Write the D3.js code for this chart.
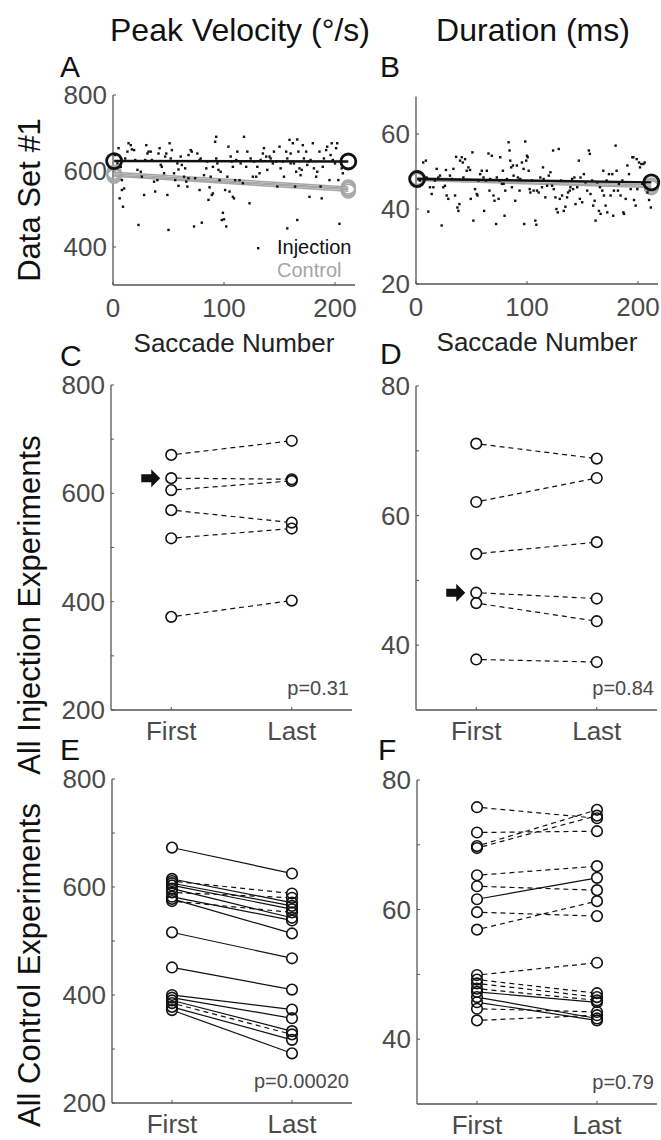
<!DOCTYPE html>
<html><head><meta charset="utf-8">
<script src="https://cdnjs.cloudflare.com/ajax/libs/d3/7.8.5/d3.min.js"></script>
<style>body{margin:0;background:#fff} text{font-family:"Liberation Sans",Arial,sans-serif}</style>
</head><body><svg id="c" width="661" height="1140"></svg>
<script>
// ---------------- DATA ----------------
const columnTitles = ["Peak Velocity (°/s)", "Duration (ms)"];
const rowLabels = ["Data Set #1", "All Injection Experiments", "All Control Experiments"];
const panelLetters = ["A", "B", "C", "D", "E", "F"];
const xCats = ["First", "Last"];
const pValues = ["p=0.31", "p=0.84", "p=0.00020", "p=0.79"];
const legendLabels = ["Injection", "Control"];

// Panel A: single injection data set, peak velocity per saccade
const saccA = [2,4,5,6,7,8,8,9,10,11,13,14,16,17,19,20,22,23,25,26,28,29,30,31,32,34,35,37,38,40,41,42,43,44,46,47,48,49,50,51,52,53,55,56,58,59,59,61,62,64,65,66,67,68,68,70,71,73,74,76,78,78,79,80,82,84,85,86,87,88,89,90,90,92,93,93,94,95,96,97,98,99,100,101,102,103,104,105,106,107,108,108,109,110,111,112,114,115,117,118,120,121,123,124,126,127,129,130,132,133,135,136,138,139,141,142,144,145,147,148,150,151,153,154,156,157,157,159,160,160,162,163,164,165,166,166,167,168,169,170,171,172,174,175,176,177,178,180,181,183,184,186,187,188,189,190,192,193,195,196,197,198,200,201,202,203,204,206,207];
const velA = [642,620,660,528,611,576,550,506,554,633,651,673,668,657,655,629,603,458,598,585,537,629,668,646,651,651,629,572,546,576,646,660,616,611,594,638,646,537,445,673,633,655,594,576,620,561,604,638,616,585,607,572,559,642,581,655,651,454,581,646,629,550,633,464,589,607,625,524,557,585,537,541,611,677,690,633,620,603,576,598,471,490,473,550,454,585,664,546,638,625,532,611,528,576,629,651,576,620,568,690,611,651,515,633,585,625,585,611,594,629,646,660,638,603,638,633,620,651,625,559,664,607,625,585,651,633,449,682,620,646,673,620,559,598,471,683,651,607,589,603,668,633,651,616,625,532,629,673,607,585,598,651,559,528,611,633,655,664,576,642,673,629,620,660,673,576,461,607,594,576];

// Panel B: single injection data set, duration per saccade
const saccB = [3.5,6.5,8.9,9.6,11.1,12.6,14.1,15.6,17.1,18.6,20.1,21.6,23.1,24.6,26.1,27,27.6,29.1,30.6,32.2,33.7,35.2,36.1,37.3,38.2,39.1,39.7,41.2,42.1,42.7,44.2,45.7,47.2,48.7,49.3,50.8,51.7,53.2,54.7,55.4,56.3,57.8,59.3,60.8,61.4,62.9,63.8,65.3,66.2,66.8,68.3,69.8,70.7,72.2,72.8,74.4,75.3,75.9,77.4,78.3,78.9,79.8,80.4,81.9,83.4,84.3,84.9,85.8,86.4,87.3,87.9,89.4,90.9,91.8,93.3,93.9,95.4,96.9,97.5,98.4,99.3,100,100.6,101.5,102.4,103,104.5,106,107.5,108.4,109,110.5,112,113.5,114.4,115,116.5,118.1,119.6,121.1,122.6,123.5,124.1,125.6,126.5,127.7,128.6,129.5,130.7,131.6,133.1,134.6,136.1,137,138.5,139.1,140.6,141.5,142.7,143.7,145.2,146.7,147.6,148.2,149.7,151.2,152.7,154.2,155.7,156.6,157.2,158.7,159.6,160.9,161.8,163.3,164.8,165.7,166.3,167.8,168.7,169.3,170.8,171.7,172.3,173.8,175.3,176.8,177.7,178.3,179.8,180.7,181.9,182.8,184.3,185.9,186.8,187.4,188.9,190.4,191.9,193.4,194.9,195.8,196.4,197.9,198.8,199.4,200.9,201.8,203,203.9,204.8,206,208.5,210,211.5];
const durB = [47.6,52.4,52.9,48.4,39.3,45.8,44,45.8,47.6,50.7,48.4,48.9,35.6,45.8,46.2,50.4,43.6,42.7,48.9,48,50.7,43.6,53.9,40.4,39.5,41.3,52.9,53.8,52.4,48.4,53.3,50.2,51.1,50.4,42.7,55.1,36.9,45.3,44,43.6,47.6,49.3,50.2,48.4,39.5,47.6,50.2,54.8,44.9,48,54.2,43.6,42.2,36,48.4,42.7,47.6,53.8,46.7,50.2,46.7,38.2,44.9,48,57.8,55.6,52.9,51.1,45.8,51.6,48.9,42.2,51.6,48.4,44.9,48,52.4,50.7,36,58,52.9,54.2,53.8,50.2,45.3,44.4,47.6,44.9,36.9,35.8,44.9,44.4,48.4,45.8,51.1,48,43.1,46.2,48.9,49.8,46.2,55.6,45.3,43.1,40,39.1,56,42.7,47.6,43.6,39.5,40.6,43.1,44.4,44.9,45.8,48,45.3,48.4,41.3,45.8,52.9,42.7,48.4,41.8,49.3,47.1,44.9,55.6,54.7,44,47.6,40.9,42.2,36.9,47.1,39.5,45.8,38.7,44.9,50.2,43.6,40.9,47.6,39.1,49.3,43.6,49.3,38.2,44.9,56.9,50.2,44.9,46.7,43.6,47.6,39.1,38.7,42.7,51.6,49.3,45.3,53.8,53.8,42.4,40.9,53.3,45.3,52.4,51.1,52,46.7,52,52.4,44.4,42.4,40.4];

// Regression-line endpoints (saccade 1 and last saccade)
const fitSacc = [1, 212];
const injFitA = [626, 625];
const ctrlFitA = [[597, 558], [593, 554], [589, 551], [586, 547]];
const injFitB = [48.0, 47.1];
const ctrlFitB = [[48.4, 46.4], [47.9, 46.0], [47.6, 45.7]];

// Panels C/D: all injection experiments (first vs last)
const injFirstC = [671, 628, 606, 569, 517, 372];
const injLastC  = [697, 626, 623, 546, 535, 402];
const injFirstD = [71.1, 62.1, 54.1, 48.1, 46.5, 37.8];
const injLastD  = [68.8, 65.8, 55.9, 47.2, 43.7, 37.4];
const arrowIdxC = 1, arrowIdxD = 3;

// Panels E/F: all control experiments (first vs last); solid = significant
const ctrlFirstE = [673, 615, 611, 607, 603, 597, 590, 582, 578, 574, 516, 451, 400, 395, 390, 385, 378, 372];
const ctrlLastE  = [625, 571, 588, 565, 559, 543, 580, 538, 514, 553, 468, 410, 373, 357, 333, 327, 317, 292];
const ctrlSolidE = [1, 1, 0, 1, 1, 1, 0, 1, 1, 0, 1, 1, 1, 1, 1, 0, 1, 1];
const ctrlFirstF = [75.8, 71.9, 69.8, 69.5, 65.3, 63.6, 61.6, 59.6, 56.9, 49.9, 49.2, 48.6, 47.8, 47.3, 46.5, 45.7, 44.7, 42.9];
const ctrlLastF  = [74.1, 72.1, 75.4, 74.5, 66.7, 63.0, 64.9, 59.0, 61.3, 51.8, 47.1, 46.5, 46.0, 45.7, 43.2, 42.9, 44.2, 43.7];
const ctrlSolidF = [0, 0, 0, 0, 0, 0, 1, 0, 0, 0, 0, 0, 0, 1, 1, 1, 0, 0];

// Axis ticks
const ticksVel = [400, 600, 800];
const ticksDurA = [20, 40, 60];
const ticksSacc = [0, 100, 200];
const ticksVelAll = [200, 300, 400, 500, 600, 700, 800];
const labelsVelAll = [200, 400, 600, 800];
const ticksDurAll = [40, 50, 60, 70, 80];
const labelsDurAll = [40, 60, 80];

// ---------------- DRAW ----------------
const svg = d3.select("#c");
const AX = "#555", TXT = "#4a4a4a", GREY = "#a6a6a6";

function yAxis(g, y, x0, ticks, labels, fs) {
  g.append("line").attr("x1", x0).attr("x2", x0).attr("y1", y.range()[0]).attr("y2", y.range()[1])
    .attr("stroke", AX).attr("stroke-width", 1.3);
  ticks.forEach(t => g.append("line").attr("x1", x0).attr("x2", x0 + 3).attr("y1", y(t)).attr("y2", y(t))
    .attr("stroke", AX).attr("stroke-width", 1));
  labels.forEach(t => g.append("text").attr("x", x0 - 6).attr("y", y(t)).attr("text-anchor", "end")
    .attr("dominant-baseline", "central").attr("font-size", fs).attr("fill", TXT).text(t));
}
function xAxisLine(g, x, yb) {
  g.append("line").attr("x1", x.range()[0]).attr("x2", x.range()[1]).attr("y1", yb).attr("y2", yb)
    .attr("stroke", AX).attr("stroke-width", 1.3);
}

// Column titles
const titleX = [240, 533];
columnTitles.forEach((t, i) => svg.append("text").attr("x", titleX[i]).attr("y", 41).attr("text-anchor", "middle")
  .attr("font-size", 32).attr("fill", "#111").text(t));
// Row labels
const rowY = [200, 605, 965];
rowLabels.forEach((t, i) => svg.append("text").attr("transform", `translate(40,${rowY[i]}) rotate(-90)`)
  .attr("text-anchor", "middle").attr("font-size", 31).attr("fill", "#111").text(t));
// Panel letters
const letterPos = [[60, 77], [380, 77], [60, 366], [380, 364], [60, 760], [378, 760]];
panelLetters.forEach((t, i) => svg.append("text").attr("x", letterPos[i][0]).attr("y", letterPos[i][1])
  .attr("font-size", 30).attr("fill", "#111").text(t));

// ---- Panels A & B ----
function scatterPanel(cfg) {
  const g = svg.append("g");
  const x = d3.scaleLinear().domain([0, 218]).range(cfg.xr);
  const y = d3.scaleLinear().domain(cfg.yd).range(cfg.yr);
  xAxisLine(g, x, cfg.yr[0]);
  yAxis(g, y, cfg.xr[0], cfg.yt, cfg.yt, 26);
  ticksSacc.forEach(t => {
    g.append("line").attr("x1", x(t)).attr("x2", x(t)).attr("y1", cfg.yr[0]).attr("y2", cfg.yr[0] - 3).attr("stroke", AX);
    g.append("text").attr("x", x(t)).attr("y", cfg.yr[0] + 32).attr("text-anchor", "middle")
      .attr("font-size", 26).attr("fill", TXT).text(t);
  });
  g.append("text").attr("x", (cfg.xr[0] + cfg.xr[1]) / 2).attr("y", cfg.yr[0] + 67).attr("text-anchor", "middle")
    .attr("font-size", 26).attr("fill", "#222").text("Saccade Number");
  // control fits
  cfg.ctrl.forEach(c => {
    g.append("line").attr("x1", x(fitSacc[0])).attr("x2", x(fitSacc[1])).attr("y1", y(c[0])).attr("y2", y(c[1]))
      .attr("stroke", GREY).attr("stroke-width", 1.5);
  });
  cfg.ctrl.forEach(c => {
    [0, 1].forEach(k => g.append("circle").attr("cx", x(fitSacc[k])).attr("cy", y(c[k])).attr("r", 7)
      .attr("fill", "none").attr("stroke", GREY).attr("stroke-width", 1.5));
  });
  // dots
  cfg.sx.forEach((s, i) => g.append("rect").attr("x", x(s) - 1.2).attr("y", y(cfg.sy[i]) - 1.2)
    .attr("width", 2.4).attr("height", 2.4).attr("fill", "#111"));
  // injection fit
  g.append("line").attr("x1", x(fitSacc[0])).attr("x2", x(fitSacc[1])).attr("y1", y(cfg.inj[0])).attr("y2", y(cfg.inj[1]))
    .attr("stroke", "#111").attr("stroke-width", 2.5);
  [0, 1].forEach(k => g.append("circle").attr("cx", x(fitSacc[k])).attr("cy", y(cfg.inj[k])).attr("r", 7.5)
    .attr("fill", "none").attr("stroke", "#111").attr("stroke-width", 2.8));
  return g;
}
const gA = scatterPanel({ xr: [113, 355], yr: [285, 95], yd: [300, 800], yt: ticksVel, sx: saccA, sy: velA, inj: injFitA, ctrl: ctrlFitA });
scatterPanel({ xr: [416, 658], yr: [284, 96.5], yd: [20, 70], yt: ticksDurA, sx: saccB, sy: durB, inj: injFitB, ctrl: ctrlFitB });
// Legend in A
gA.append("rect").attr("x", 257).attr("y", 247).attr("width", 2.4).attr("height", 2.4).attr("fill", "#111");
gA.append("text").attr("x", 277).attr("y", 254).attr("font-size", 20).attr("fill", "#111").text(legendLabels[0]);
gA.append("text").attr("x", 277).attr("y", 277).attr("font-size", 20).attr("fill", GREY).text(legendLabels[1]);

// ---- Panels C-F ----
function pairPanel(cfg) {
  const g = svg.append("g");
  const x = d3.scaleLinear().domain([0.5, 2.5]).range(cfg.xr);
  const y = d3.scaleLinear().domain(cfg.yd).range(cfg.yr);
  xAxisLine(g, x, cfg.yr[0]);
  yAxis(g, y, cfg.xr[0], cfg.ticks, cfg.labels, 26);
  xCats.forEach((c, i) => {
    g.append("line").attr("x1", x(i + 1)).attr("x2", x(i + 1)).attr("y1", cfg.yr[0]).attr("y2", cfg.yr[0] - 3).attr("stroke", AX);
    g.append("text").attr("x", x(i + 1)).attr("y", cfg.yr[0] + 30).attr("text-anchor", "middle")
      .attr("font-size", 26).attr("fill", TXT).text(c);
  });
  cfg.first.forEach((f, i) => {
    const solid = cfg.solid ? cfg.solid[i] : 0;
    const dx = 5.5 * (x(2) - x(1)) / Math.hypot(x(2) - x(1), y(cfg.last[i]) - y(f));
    const dy = dx * (y(cfg.last[i]) - y(f)) / (x(2) - x(1));
    g.append("line").attr("x1", x(1) + dx).attr("y1", y(f) + dy).attr("x2", x(2) - dx).attr("y2", y(cfg.last[i]) - dy)
      .attr("stroke", "#111").attr("stroke-width", 1.2).attr("stroke-dasharray", solid ? null : "5,4");
  });
  cfg.first.forEach((f, i) => {
    g.append("circle").attr("cx", x(1)).attr("cy", y(f)).attr("r", 5.3).attr("fill", "none").attr("stroke", "#111").attr("stroke-width", 1.6);
    g.append("circle").attr("cx", x(2)).attr("cy", y(cfg.last[i])).attr("r", 5.3).attr("fill", "none").attr("stroke", "#111").attr("stroke-width", 1.6);
  });
  if (cfg.arrow != null) {
    const ax = x(1) - 11, ay = y(cfg.first[cfg.arrow]);
    g.append("path").attr("d", `M${ax},${ay} l-9,-9 v5 h-10 v8 h10 v5 z`).attr("fill", "#111");
  }
  g.append("text").attr("x", cfg.xr[1] - 3).attr("y", cfg.yr[0] - 15).attr("text-anchor", "end")
    .attr("font-size", 20).attr("fill", TXT).text(cfg.p);
}
pairPanel({ xr: [111, 352], yr: [710, 385], yd: [200, 800], ticks: ticksVelAll, labels: labelsVelAll, first: injFirstC, last: injLastC, arrow: arrowIdxC, p: pValues[0] });
pairPanel({ xr: [416, 657], yr: [710, 386], yd: [30, 80], ticks: ticksDurAll, labels: labelsDurAll, first: injFirstD, last: injLastD, arrow: arrowIdxD, p: pValues[1] });
pairPanel({ xr: [112, 352], yr: [1103, 779], yd: [200, 800], ticks: ticksVelAll, labels: labelsVelAll, first: ctrlFirstE, last: ctrlLastE, solid: ctrlSolidE, p: pValues[2] });
pairPanel({ xr: [417, 657], yr: [1104, 780], yd: [30, 80], ticks: ticksDurAll, labels: labelsDurAll, first: ctrlFirstF, last: ctrlLastF, solid: ctrlSolidF, p: pValues[3] });
</script></body></html>
